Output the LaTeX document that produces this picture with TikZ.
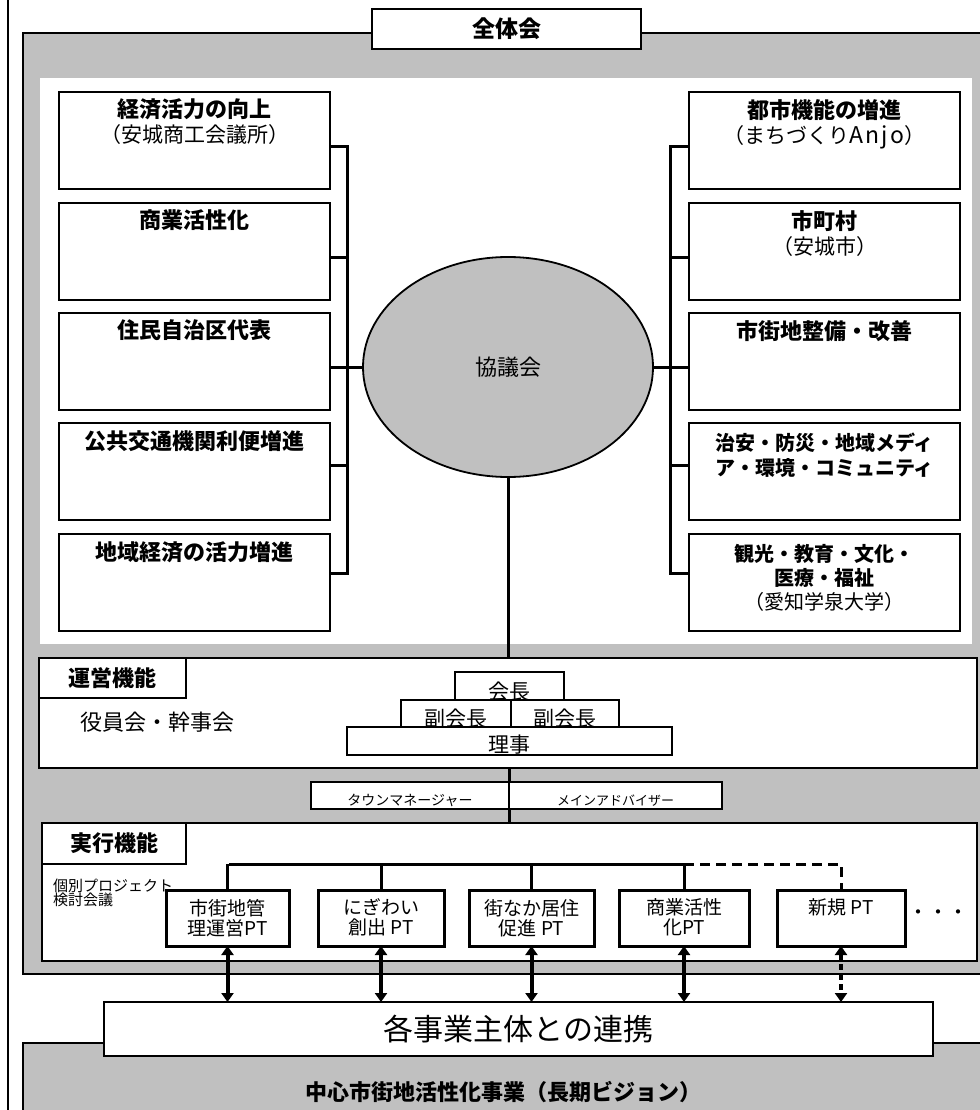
\documentclass[tikz,border=0pt]{standalone}
\usepackage{fontspec}
\setmainfont{Noto Sans CJK JP}
\usetikzlibrary{shapes.geometric,arrows.meta}
\definecolor{bg}{HTML}{C0C0C0}
\begin{document}
\begin{tikzpicture}[x=1pt,y=-1pt,
  every node/.style={inner sep=0pt, outer sep=0pt},
  topbox/.style={draw, fill=white, line width=1.8pt, anchor=north west, minimum width=271pt, minimum height=97pt},
  conn/.style={line width=3pt},
  thickbox/.style={draw, fill=white, line width=2.6pt, anchor=north west},
  pbox/.style={draw, fill=white, line width=1.6pt, anchor=north west},
  ptbox/.style={draw, fill=white, line width=3pt, anchor=north west, minimum height=56pt},
  boxtext/.style={anchor=north, align=center, font=\fontsize{21}{25}\selectfont},
  ptext/.style={anchor=north, align=center, font=\fontsize{19}{20}\selectfont},
  ttl/.style={font=\fontsize{22}{25}\selectfont\bfseries},
  dblarrow/.style={line width=4pt, {Triangle[length=9pt,width=12pt]}-{Triangle[length=9pt,width=12pt]}},
]
\useasboundingbox (0,0) rectangle (979,1110);
% page line and backgrounds
\draw[line width=2pt] (8,-5) -- (8,1115);
\draw[fill=bg, line width=2pt] (23,33) rectangle (995,974);
\fill[white] (40,78) rectangle (972,644);
\node[thickbox, minimum width=269pt, minimum height=40pt, font=\fontsize{23}{25}\selectfont\bfseries] (zentai) at (372,9) {全体会};

% left boxes
\node[topbox] (L1) at (59,92) {};
\node[topbox] (L2) at (59,203) {};
\node[topbox] (L3) at (59,313) {};
\node[topbox] (L4) at (59,423) {};
\node[topbox] (L5) at (59,534) {};
% right boxes
\node[topbox] (R1) at (689,92) {};
\node[topbox] (R2) at (689,203) {};
\node[topbox] (R3) at (689,313) {};
\node[topbox] (R4) at (689,423) {};
\node[topbox] (R5) at (689,534) {};

\node[boxtext] (tL1) at ([yshift=-7pt]L1.north) {{\bfseries\fontsize{22}{25}\selectfont 経済活力の向上}\\（安城商工会議所）};
\node[boxtext] (tL2) at ([yshift=-7pt]L2.north) {{\bfseries\fontsize{22}{25}\selectfont 商業活性化}};
\node[boxtext] (tL3) at ([yshift=-7pt]L3.north) {{\bfseries\fontsize{22}{25}\selectfont 住民自治区代表}};
\node[boxtext] (tL4) at ([yshift=-8pt]L4.north) {{\bfseries\fontsize{22}{25}\selectfont 公共交通機関利便増進}};
\node[boxtext] (tL5) at ([yshift=-8pt]L5.north) {{\bfseries\fontsize{22}{25}\selectfont 地域経済の活力増進}};
\node[boxtext] (tR1) at ([yshift=-8pt]R1.north) {{\bfseries\fontsize{22}{25}\selectfont 都市機能の増進}\\（まちづくり{\fontsize{23}{25}\selectfont A\hspace{2pt}n\hspace{2pt}j\hspace{2pt}o}）};
\node[boxtext] (tR2) at ([yshift=-8pt]R2.north) {{\bfseries\fontsize{22}{26}\selectfont 市町村}\\（安城市）};
\node[boxtext] (tR3) at ([yshift=-8pt]R3.north) {{\bfseries\fontsize{22}{25}\selectfont 市街地整備・改善}};
\node[boxtext, font=\fontsize{20}{25}\selectfont\bfseries] (tR4) at ([yshift=-10pt]R4.north) {治安・防災・地域メディ\\ア・環境・コミュニティ};
\node[boxtext, font=\fontsize{20}{24}\selectfont] (tR5) at ([yshift=-10pt]R5.north) {{\bfseries 観光・教育・文化・}\\{\bfseries 医療・福祉}\\（愛知学泉大学）};

% council ellipse
\node[ellipse, draw, fill=bg, line width=1.8pt, minimum width=290pt, minimum height=220pt, font=\fontsize{22}{25}\selectfont] (K) at (508,367) {協議会};

% connectors (bus lines)
\coordinate (lb) at (347,0);
\coordinate (rb) at (670,0);
\coordinate (sL1) at ([yshift=-6.5pt]L1.east);
\coordinate (sL2) at ([yshift=-6pt]L2.east);
\coordinate (sL3) at ([yshift=-5.5pt]L3.east);
\coordinate (sL4) at ([yshift=6.5pt]L4.east);
\coordinate (sL5) at ([yshift=9.5pt]L5.east);
\coordinate (sR1) at ([yshift=-6.5pt]R1.west);
\coordinate (sR2) at ([yshift=-6pt]R2.west);
\coordinate (sR3) at ([yshift=-5.5pt]R3.west);
\coordinate (sR4) at ([yshift=6.5pt]R4.west);
\coordinate (sR5) at ([yshift=9.5pt]R5.west);
\draw[conn] (sL1) -| (lb |- sL5) -- (sL5);
\draw[conn] (sL2) -- (sL2 -| lb);
\draw[conn] (sL3) -- (sL3 -| lb);
\draw[conn] (sL4) -- (sL4 -| lb);
\draw[conn] (K.west) -- (K.west -| lb);
\draw[conn] (sR1) -| (rb |- sR5) -- (sR5);
\draw[conn] (sR2) -- (sR2 -| rb);
\draw[conn] (sR3) -- (sR3 -| rb);
\draw[conn] (sR4) -- (sR4 -| rb);
\draw[conn] (K.east) -- (K.east -| rb);

% management
\node[thickbox, minimum width=938pt, minimum height=110pt] (unei) at (39,658) {};
\draw[conn] (K.south) -- (K.south |- unei.north);
\node[thickbox, minimum width=147pt, minimum height=40pt, ttl] (uneitab) at (39,658) {運営機能};
\node[font=\fontsize{22}{25}\selectfont] (yakuin) at (157,722) {役員会・幹事会};
\node[pbox, minimum width=109pt, minimum height=28pt] (kaicho) at (455,672) {};
\node[pbox, minimum width=110pt, minimum height=27pt] (fuku1) at (401,700) {};
\node[pbox, minimum width=108pt, minimum height=27pt] (fuku2) at (511,700) {};
\node[pbox, minimum width=325pt, minimum height=28pt] (riji) at (347,727) {};
\node[font=\fontsize{21}{25}\selectfont] (tkaicho) at ([yshift=-6pt]kaicho.center) {会長};
\node[font=\fontsize{21}{25}\selectfont] (tfuku1) at ([yshift=-5pt]fuku1.center) {副会長};
\node[font=\fontsize{21}{25}\selectfont] (tfuku2) at ([yshift=-5pt]fuku2.center) {副会長};
\node[font=\fontsize{21}{25}\selectfont] (triji) at ([yshift=-4pt]riji.center) {理事};

% town manager / adviser
\node[thickbox, minimum width=198pt, minimum height=27pt] (tm) at (311,782) {};
\node[thickbox, minimum width=213pt, minimum height=27pt] (adv) at (509,782) {};
\node[font=\fontsize{14}{16}\selectfont] (ttm) at ([yshift=-5pt]tm.center) {タウンマネージャー};
\node[font=\fontsize{13}{16}\selectfont] (tadv) at ([yshift=-5pt]adv.center) {メインアドバイザー};
\draw[conn] (tm.north east) -- (tm.north east |- unei.south);

% execution
\node[thickbox, minimum width=935pt, minimum height=138pt] (jikko) at (42,823) {};
\draw[conn] (tm.south east) -- (tm.south east |- jikko.north);
\node[thickbox, minimum width=144pt, minimum height=41pt, ttl] (jikkotab) at (42,823) {実行機能};
\node[anchor=north west, align=left, font=\fontsize{15}{14}\selectfont] (kobetsu) at (53,879) {個別プロジェクト\\検討会議};

\coordinate (bus) at (0,864);
\draw[conn] (229,864) -- (684,864);
\node[ptbox, minimum width=123pt] (P1) at (166,890) {};
\node[ptbox, minimum width=126pt] (P2) at (318,890) {};
\node[ptbox, minimum width=125pt] (P3) at (469,890) {};
\node[ptbox, minimum width=130pt] (P4) at (619,890) {};
\node[ptbox, minimum width=128pt] (P5) at (777,890) {};
\draw[conn] (P1.north) -- (P1.north |- bus);
\draw[conn] (P2.north) -- (P2.north |- bus);
\draw[conn] (P3.north) -- (P3.north |- bus);
\draw[conn] (P4.north) -- (P4.north |- bus);
\draw[conn, dash pattern=on 10pt off 6pt] (P4.north |- bus) -- (P5.north |- bus) -- (P5.north);
\node[ptext] (tP1) at ([yshift=-9pt]P1.north) {市街地管\\理運営PT};
\node[ptext] (tP2) at ([yshift=-9pt]P2.north) {にぎわい\\創出 PT};
\node[ptext] (tP3) at ([yshift=-9pt]P3.north) {街なか居住\\促進 PT};
\node[ptext] (tP4) at ([yshift=-9pt]P4.north) {商業活性\\化PT};
\node[ptext] (tP5) at ([yshift=-9pt]P5.north) {新規 PT};
\node[font=\fontsize{20}{20}\selectfont] (dots) at (938,915) {・・・};

% bottom
\draw[fill=bg, line width=2pt] (23,1043) rectangle (995,1130);
\node[thickbox, minimum width=829pt, minimum height=54pt, font=\fontsize{30}{32}\selectfont] (renkei) at (104,1002) {各事業主体との連携};
\node[ttl] (vision) at (503,1092) {中心市街地活性化事業（長期ビジョン）};

\draw[dblarrow] (P1.south) -- (P1.south |- renkei.north);
\draw[dblarrow] (P2.south) -- (P2.south |- renkei.north);
\draw[dblarrow] (P3.south) -- (P3.south |- renkei.north);
\draw[dblarrow] (P4.south) -- (P4.south |- renkei.north);
\draw[dblarrow, dash pattern=on 6pt off 4pt] (P5.south) -- (P5.south |- renkei.north);
\end{tikzpicture}
\end{document}
